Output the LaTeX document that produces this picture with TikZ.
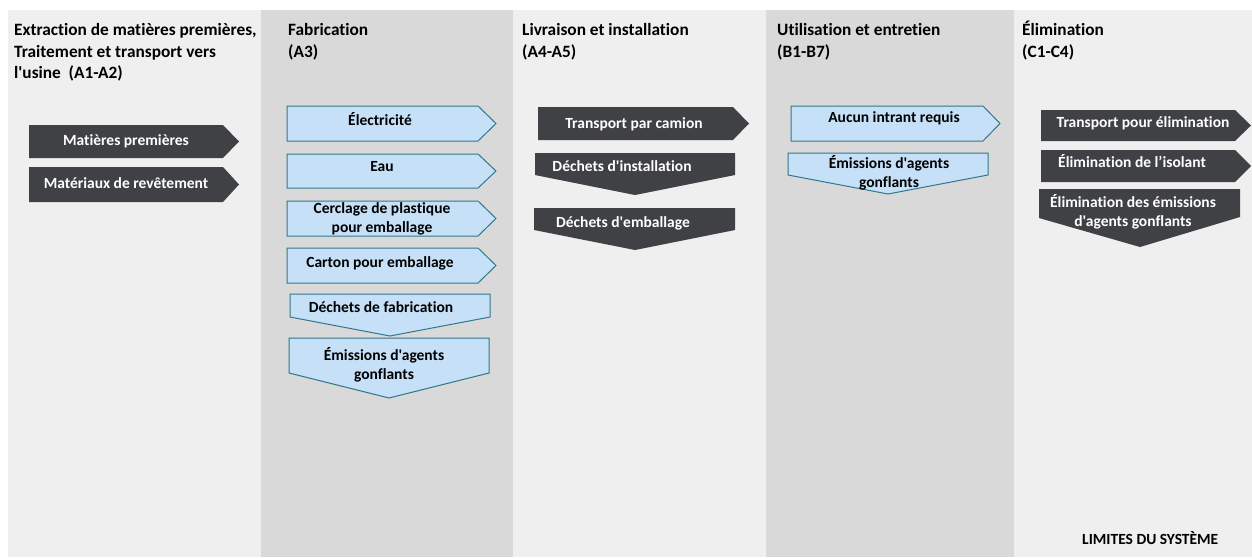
\documentclass[tikz,border=0pt]{standalone}
\usepackage{fontspec}
\newfontfamily\flowfont{Carlito}[Ligatures={NoCommon,NoContextual}]
\usepackage{tikz}
\usetikzlibrary{positioning}
\definecolor{phaselight}{HTML}{EFEFEF}
\definecolor{phasedark}{HTML}{D9D9D9}
\definecolor{flowdark}{HTML}{404144}
\definecolor{flowblue}{HTML}{C6E0F8}
\definecolor{flowborder}{HTML}{31788C}
\tikzset{
    phase light/.style={fill=phaselight, draw=none},
    phase dark/.style={fill=phasedark, draw=none},
    phase title/.style={
        anchor=base west, inner sep=0pt, align=left,
        font=\flowfont\fontsize{17.3}{21.5}\selectfont\bfseries
    },
    dark flow/.style={fill=flowdark, draw=none},
    blue flow/.style={fill=flowblue, draw=flowborder, line width=1pt, line join=miter},
    dark label/.style={
        anchor=base, inner sep=0pt, align=center, text=white,
        font=\flowfont\fontsize{15.5}{19}\selectfont\bfseries
    },
    blue label/.style={
        anchor=base, inner sep=0pt, align=center, text=black,
        font=\flowfont\fontsize{15.5}{19}\selectfont\bfseries
    },
}
\begin{document}
\begin{tikzpicture}[x=1pt, y=-1pt]
    \useasboundingbox[fill=white] (0,0) rectangle (1252,557);

    % Phase columns
    \path[phase light] (8,10) rectangle (261,557);
    \path[phase dark] (261,10) rectangle (513,557);
    \path[phase light] (513,10) rectangle (766,557);
    \path[phase dark] (766,10) rectangle (1014,557);
    \path[phase light] (1014,10) rectangle (1252,557);

    % Phase titles (base = last line)
    \node[phase title] (t1) at (14,78.5) {Extraction de matières premières,\\Traitement et transport vers\\l'usine~ (A1-A2)};
    \node[phase title] (t2) at (288,57) {Fabrication\\(A3)};
    \node[phase title] (t3) at (522,57) {Livraison et installation\\(A4-A5)};
    \node[phase title] (t4) at (777,57) {Utilisation et entretien\\(B1-B7)};
    \node[phase title] (t5) at (1022,57) {Élimination\\(C1-C4)};

    % A1-A2 inputs
    \fill[dark flow] (29,125) -- (223,125) -- (239,141.5) -- (223,158) -- (29,158) -- cycle;
    \fill[dark flow] (29,167) -- (223,167) -- (239,184.5) -- (223,202) -- (29,202) -- cycle;
    \node[dark label] (mp) at (126,145) {Matières premières};
    \node[dark label] (mr) at (126,188) {Matériaux de revêtement};

    % A3 inputs
    \draw[blue flow] (287,106) -- (478,106) -- (496,123.5) -- (478,141) -- (287,141) -- cycle;
    \draw[blue flow] (287,154) -- (478,154) -- (496,171) -- (478,188) -- (287,188) -- cycle;
    \draw[blue flow] (287,201) -- (478,201) -- (496,218.5) -- (478,236) -- (287,236) -- cycle;
    \draw[blue flow] (287,248) -- (478,248) -- (496,265.5) -- (478,283) -- (287,283) -- cycle;
    \node[blue label] (elec) at (380,125) {Électricité};
    \node[blue label] (eau) at (382,171) {Eau};
    \node[blue label] (cer) at (382,232) {Cerclage de plastique\\pour emballage};
    \node[blue label] (car) at (380,267) {Carton pour emballage};

    % A3 outputs
    \draw[blue flow] (290,294) -- (490,294) -- (490,317) -- (390,336) -- (290,317) -- cycle;
    \draw[blue flow] (289,338) -- (489,338) -- (489,373) -- (389,398) -- (289,373) -- cycle;
    \node[blue label] (dfab) at (381,312) {Déchets de fabrication};
    \node[blue label] (emfab) at (384,379) {Émissions d'agents\\gonflants};

    % A4-A5
    \fill[dark flow] (538,107) -- (733,107) -- (749,123.5) -- (733,140) -- (538,140) -- cycle;
    \fill[dark flow] (535,153) -- (735,153) -- (735,175) -- (635,195) -- (535,175) -- cycle;
    \fill[dark flow] (534,208) -- (735,208) -- (735,230) -- (635,250) -- (534,230) -- cycle;
    \node[dark label] (tc) at (634,128) {Transport par camion};
    \node[dark label] (di) at (622,171) {Déchets d'installation};
    \node[dark label] (de) at (623,227) {Déchets d'emballage};

    % B1-B7
    \draw[blue flow] (791,106) -- (983,106) -- (1000,123.5) -- (983,141) -- (791,141) -- cycle;
    \draw[blue flow] (788,153) -- (988,153) -- (988,175) -- (888,194) -- (788,175) -- cycle;
    \node[blue label] (aucun) at (894,122) {Aucun intrant requis};
    \node[blue label] (emuse) at (889,187) {Émissions d'agents\\gonflants};

    % C1-C4
    \fill[dark flow] (1041,110) -- (1235,110) -- (1251,125.5) -- (1235,141) -- (1041,141) -- cycle;
    \fill[dark flow] (1041,150) -- (1235,150) -- (1251,166) -- (1235,182) -- (1041,182) -- cycle;
    \fill[dark flow] (1039,189) -- (1240,189) -- (1240,217) -- (1140,247) -- (1039,218) -- cycle;
    \node[dark label] (tpe) at (1143,127) {Transport pour élimination};
    \node[dark label] (eis) at (1132,167) {Élimination de l’isolant};
    \node[dark label] (eem) at (1133,226) {Élimination des émissions\\d'agents gonflants};

    % System boundary
    \node[phase title, font=\flowfont\fontsize{15.5}{19}\selectfont\bfseries] (lim) at (1082,544) {LIMITES DU SYSTÈME};
\end{tikzpicture}
\end{document}
